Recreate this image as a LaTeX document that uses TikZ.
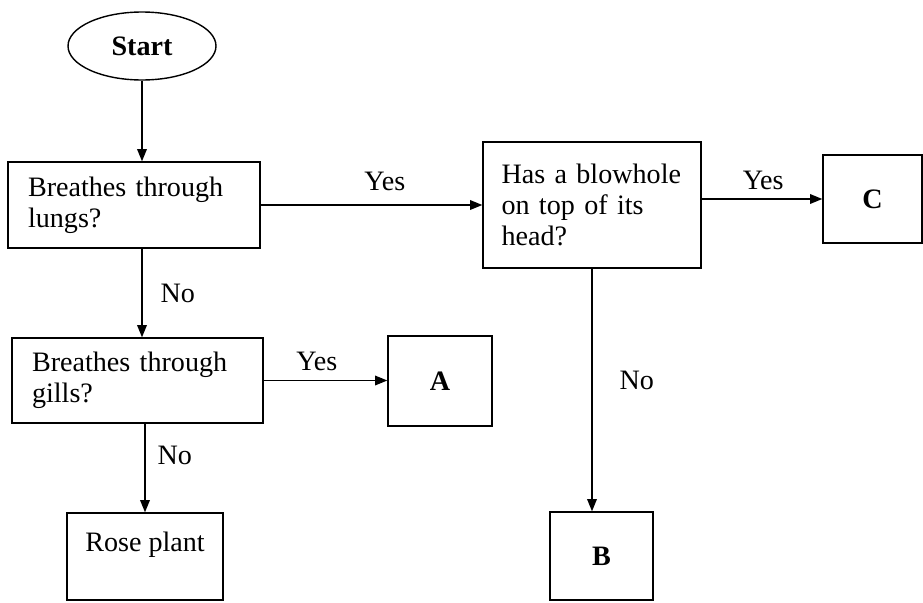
\documentclass[tikz,border=0pt]{standalone}
\usepackage{fontspec}
\setmainfont{Liberation Serif}
\usetikzlibrary{shapes.geometric,arrows.meta}

\begin{document}
\begin{tikzpicture}[x=0.02cm,y=-0.02cm,font=\fontsize{16}{17.5}\selectfont,
  line width=0.8pt,>={Triangle[length=7pt,width=5.5pt]},
  qbox/.style={draw,rectangle,align=left,inner xsep=0.4cm,inner ysep=0pt},
  endbox/.style={draw,rectangle,font=\fontsize{16}{17.5}\selectfont\bfseries}]
\useasboundingbox (0,0) rectangle (923,602);
\node[draw,ellipse,minimum width=2.96cm,minimum height=1.36cm,inner sep=0pt,font=\fontsize{16}{17.5}\selectfont\bfseries] (start) at (142,46) {Start};
\node[qbox,text width=4.24cm,minimum height=1.72cm] (lungs) at (134,205) {Breathes through\\lungs?};
\node[qbox,text width=3.62cm,inner xsep=0.37cm,minimum height=2.52cm] (blowhole) at (592,205) {Has a blowhole\\on top of its\\head?};
\node[endbox,minimum width=1.98cm,minimum height=1.76cm] (c) at (872.5,199) {C};
\node[qbox,text width=4.22cm,minimum height=1.7cm] (gills) at (137.5,380.5) {Breathes through\\gills?};
\node[endbox,minimum width=2.08cm,minimum height=1.8cm] (a) at (440,381) {A};
\node[draw,rectangle,minimum width=3.12cm,minimum height=1.74cm,text depth=0.6cm] (rose) at (145,556.5) {Rose plant};
\node[endbox,minimum width=2.06cm,minimum height=1.76cm] (b) at (601.5,556) {B};
\draw[->] (start) -- (start |- lungs.north);
\draw[->] (lungs.east) -- node[above=0.16cm,pos=0.56] (yes1) {Yes} (lungs.east -| blowhole.west);
\draw[->] (blowhole.east |- c) -- node[above=0.06cm,pos=0.51] (yes2) {Yes} (c.west);
\draw[->] (start |- lungs.south) -- node[right=0.24cm] (no1) {No} (start |- gills.north);
\draw[->] (gills.east) -- node[above=0.06cm,pos=0.43] (yes3) {Yes} (gills.east -| a.west);
\draw[->] (rose |- gills.south) -- node[right=0.12cm,pos=0.36] (no2) {No} (rose.north);
\draw[->] (blowhole.south) -- node[right=0.42cm,pos=0.46] (no3) {No} (blowhole.south |- b.north);
\end{tikzpicture}
\end{document}
